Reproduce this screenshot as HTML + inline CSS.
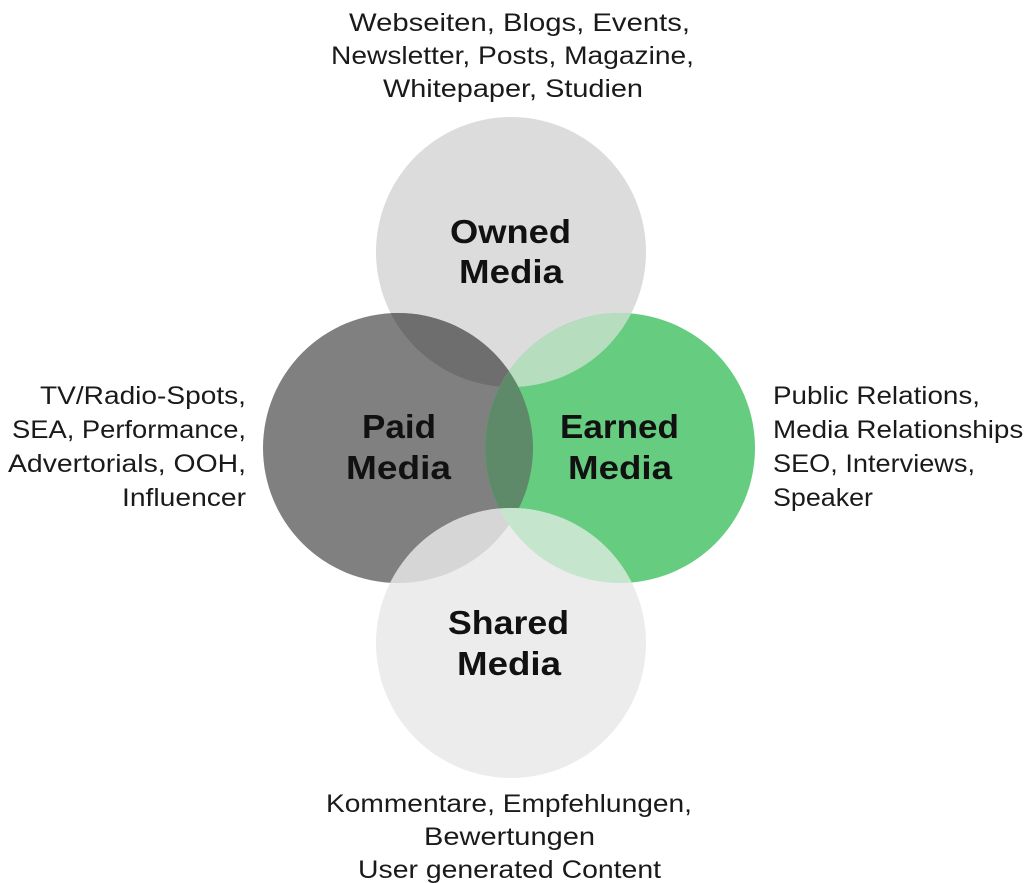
<!DOCTYPE html>
<html><head><meta charset="utf-8"><style>
html,body{margin:0;padding:0;background:#fff;width:1024px;height:883px;overflow:hidden}
svg{display:block}
.l{font-family:"Liberation Sans",sans-serif;font-size:25px;fill:#1a1a1a}
.h{font-family:"Liberation Sans",sans-serif;font-size:33px;font-weight:bold;fill:#111}
</style></head><body>
<svg width="1024" height="883" viewBox="0 0 1024 883">
<defs>
<clipPath id="cO"><circle cx="511" cy="252" r="135"/></clipPath>
<clipPath id="cP"><circle cx="398" cy="448" r="135"/></clipPath>
<clipPath id="cE"><circle cx="620" cy="448" r="135"/></clipPath>
<clipPath id="cS"><circle cx="511" cy="643" r="135"/></clipPath>
</defs>
<circle cx="511" cy="252" r="135" fill="#dcdcdc"/>
<circle cx="398" cy="448" r="135" fill="#808080"/>
<circle cx="620" cy="448" r="135" fill="#66cd80"/>
<circle cx="511" cy="643" r="135" fill="#ececec"/>
<g clip-path="url(#cO)"><circle cx="398" cy="448" r="135" fill="#6e6e6e"/><circle cx="620" cy="448" r="135" fill="#b6ddbe"/></g>
<g clip-path="url(#cP)"><circle cx="620" cy="448" r="135" fill="#5f8a69"/></g>
<g clip-path="url(#cS)"><circle cx="398" cy="448" r="135" fill="#d6d6d6"/><circle cx="620" cy="448" r="135" fill="#c5e6cc"/></g>
<text class="h" x="450" y="243" textLength="121" lengthAdjust="spacingAndGlyphs">Owned</text>
<text class="h" x="459" y="283" textLength="104" lengthAdjust="spacingAndGlyphs">Media</text>
<text class="h" x="362" y="438" textLength="74" lengthAdjust="spacingAndGlyphs">Paid</text>
<text class="h" x="346" y="479" textLength="105" lengthAdjust="spacingAndGlyphs">Media</text>
<text class="h" x="560" y="438" textLength="119" lengthAdjust="spacingAndGlyphs">Earned</text>
<text class="h" x="568" y="479" textLength="104" lengthAdjust="spacingAndGlyphs">Media</text>
<text class="h" x="448" y="634" textLength="121" lengthAdjust="spacingAndGlyphs">Shared</text>
<text class="h" x="457" y="675" textLength="104" lengthAdjust="spacingAndGlyphs">Media</text>
<text class="l" x="349" y="31" textLength="341" lengthAdjust="spacingAndGlyphs">Webseiten, Blogs, Events,</text>
<text class="l" x="331" y="64" textLength="363" lengthAdjust="spacingAndGlyphs">Newsletter, Posts, Magazine,</text>
<text class="l" x="383" y="97" textLength="260" lengthAdjust="spacingAndGlyphs">Whitepaper, Studien</text>
<text class="l" x="326" y="812" textLength="366" lengthAdjust="spacingAndGlyphs">Kommentare, Empfehlungen,</text>
<text class="l" x="424" y="845" textLength="171" lengthAdjust="spacingAndGlyphs">Bewertungen</text>
<text class="l" x="358" y="878" textLength="303" lengthAdjust="spacingAndGlyphs">User generated Content</text>
<text class="l" x="40" y="404" textLength="206" lengthAdjust="spacingAndGlyphs">TV/Radio-Spots,</text>
<text class="l" x="12" y="438" textLength="234" lengthAdjust="spacingAndGlyphs">SEA, Performance,</text>
<text class="l" x="8" y="472" textLength="238" lengthAdjust="spacingAndGlyphs">Advertorials, OOH,</text>
<text class="l" x="122" y="506" textLength="124" lengthAdjust="spacingAndGlyphs">Influencer</text>
<text class="l" x="773" y="404" textLength="207" lengthAdjust="spacingAndGlyphs">Public Relations,</text>
<text class="l" x="773" y="438" textLength="258" lengthAdjust="spacingAndGlyphs">Media Relationships,</text>
<text class="l" x="773" y="472" textLength="202" lengthAdjust="spacingAndGlyphs">SEO, Interviews,</text>
<text class="l" x="773" y="506" textLength="100" lengthAdjust="spacingAndGlyphs">Speaker</text>
</svg>
</body></html>
